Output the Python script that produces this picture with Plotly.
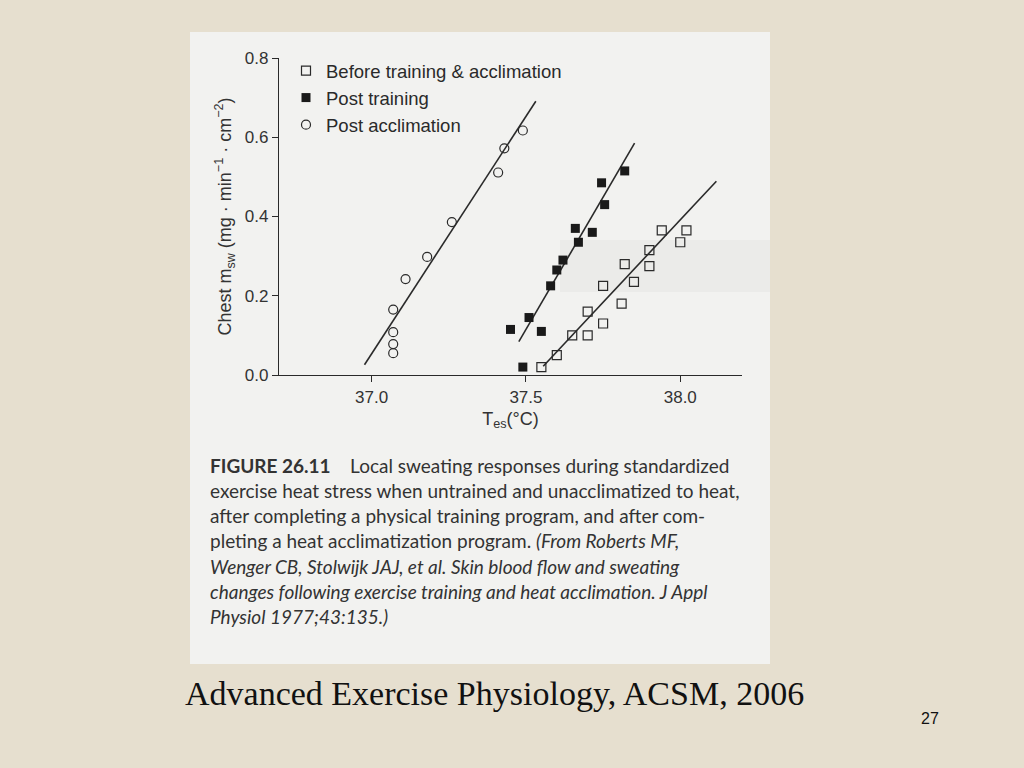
import plotly.graph_objects as go

# ---- data ----
before_T = [37.55, 37.60, 37.65, 37.70, 37.70, 37.75, 37.75, 37.81, 37.82, 37.85, 37.90, 37.90, 37.94, 38.00, 38.02]
before_y = [0.02, 0.05, 0.10, 0.10, 0.16, 0.13, 0.225, 0.18, 0.28, 0.235, 0.315, 0.275, 0.365, 0.335, 0.365]

train_T = [37.45, 37.49, 37.51, 37.55, 37.58, 37.60, 37.62, 37.66, 37.67, 37.715, 37.745, 37.755, 37.82]
train_y = [0.115, 0.02, 0.145, 0.11, 0.225, 0.265, 0.29, 0.37, 0.335, 0.36, 0.485, 0.43, 0.515]

accl_T = [37.07, 37.07, 37.07, 37.07, 37.11, 37.18, 37.26, 37.41, 37.43, 37.49]
accl_y = [0.055, 0.078, 0.108, 0.165, 0.242, 0.298, 0.386, 0.511, 0.572, 0.617]

# regression line end points
fit_accl_T = [36.977, 37.532]
fit_accl_y = [0.026, 0.691]
fit_train_T = [37.477, 37.852]
fit_train_y = [0.084, 0.585]
fit_before_T = [37.556, 38.117]
fit_before_y = [0.022, 0.489]

series_names = ["Before training & acclimation", "Post training", "Post acclimation"]
x_ticks = [37.0, 37.5, 38.0]
y_ticks = [0.0, 0.2, 0.4, 0.6, 0.8]

caption_lines = [
    "<b>FIGURE 26.11</b>    Local sweating responses during standardized",
    "exercise heat stress when untrained and unacclimatized to heat,",
    "after completing a physical training program, and after com-",
    "pleting a heat acclimatization program. <i>(From Roberts MF,</i>",
    "<i>Wenger CB, Stolwijk JAJ, et al. Skin blood flow and sweating</i>",
    "<i>changes following exercise training and heat acclimation. J Appl</i>",
    "<i>Physiol 1977;43:135.)</i>",
]
footer_text = "Advanced Exercise Physiology, ACSM, 2006"
slide_number = "27"

# ---- figure ----
W, H = 1024, 768
INK = "#2a2a2a"
SANS = "Liberation Sans, Arial, sans-serif"


def px(x):
    return x / W


def py(y):
    return 1 - y / H


fig = go.Figure()

line_style = dict(color=INK, width=1.6)
for T, Y in [(fit_accl_T, fit_accl_y), (fit_train_T, fit_train_y), (fit_before_T, fit_before_y)]:
    fig.add_trace(go.Scatter(x=T, y=Y, mode="lines", line=line_style,
                             showlegend=False, hoverinfo="skip"))

fig.add_trace(go.Scatter(x=before_T, y=before_y, mode="markers", name=series_names[0],
                         marker=dict(symbol="square-open", size=9, color=INK, line=dict(width=1.2, color=INK))))
fig.add_trace(go.Scatter(x=train_T, y=train_y, mode="markers", name=series_names[1],
                         marker=dict(symbol="square", size=9, color="#1a1a1a", line=dict(width=0))))
fig.add_trace(go.Scatter(x=accl_T, y=accl_y, mode="markers", name=series_names[2],
                         marker=dict(symbol="circle-open", size=9, color=INK, line=dict(width=1.2, color=INK))))

tick_font = dict(family=SANS, size=17, color="#333333")

fig.update_layout(
    width=W, height=H,
    paper_bgcolor="#E6DFCF",
    plot_bgcolor="rgba(0,0,0,0)",
    margin=dict(l=0, r=0, t=0, b=0, autoexpand=False),
    showlegend=True,
    legend=dict(x=px(286), y=py(52), xanchor="left", yanchor="top",
                bgcolor="rgba(0,0,0,0)", font=dict(family=SANS, size=18.5, color="#2a2a2a"),
                itemwidth=30, tracegroupgap=0),
    xaxis=dict(domain=[px(279), px(742)], range=[36.70, 38.20], automargin=False,
               tickvals=x_ticks, tickformat=".1f", ticks="outside", ticklen=6, tickwidth=1.3,
               tickcolor=INK, showline=True, linecolor=INK, linewidth=1.4,
               showgrid=False, zeroline=False, tickfont=tick_font,
               title=dict(text="T<sub>es</sub>(°C)", font=dict(family=SANS, size=18, color="#333333"), standoff=6)),
    yaxis=dict(domain=[py(375), py(58)], range=[0, 0.8], automargin=False,
               tickvals=y_ticks, tickformat=".1f", ticks="outside", ticklen=6, tickwidth=1.3,
               tickcolor=INK, showline=True, linecolor=INK, linewidth=1.4,
               showgrid=False, zeroline=False, tickfont=tick_font,
               title=dict(text="Chest m<sub>sw</sub> (mg · min<sup>−1</sup> · cm<sup>−2</sup>)",
                          font=dict(family=SANS, size=18, color="#333333"), standoff=8)),
)

# scanned page background
fig.add_shape(type="rect", xref="paper", yref="paper", layer="below",
              x0=px(190), x1=px(770), y0=py(664), y1=py(32),
              fillcolor="#F2F2F0", line=dict(width=0))
# faint grey band from the scan
fig.add_shape(type="rect", xref="paper", yref="paper", layer="below",
              x0=px(560), x1=px(770), y0=py(292), y1=py(240),
              fillcolor="#EBEBE9", line=dict(width=0))

annotations = []
for i, line in enumerate(caption_lines):
    annotations.append(dict(text=line, xref="paper", yref="paper", x=px(208), y=py(465 + i * 25.3),
                            xanchor="left", yanchor="middle", showarrow=False,
                            font=dict(family="Lato, Noto Sans, sans-serif", size=19, color="#333333")))
annotations.append(dict(text=footer_text, xref="paper", yref="paper", x=px(494), y=py(693),
                        xanchor="center", yanchor="middle", showarrow=False,
                        font=dict(family="Liberation Serif, Times New Roman, serif", size=34, color="#111111")))
annotations.append(dict(text=slide_number, xref="paper", yref="paper", x=px(930), y=py(718),
                        xanchor="center", yanchor="middle", showarrow=False,
                        font=dict(family=SANS, size=16, color="#111111")))
fig.update_layout(annotations=annotations)

fig.write_html("out.html", config={"displayModeBar": False},
               post_script="document.body.style.margin='0';document.body.style.background='#E6DFCF';")
